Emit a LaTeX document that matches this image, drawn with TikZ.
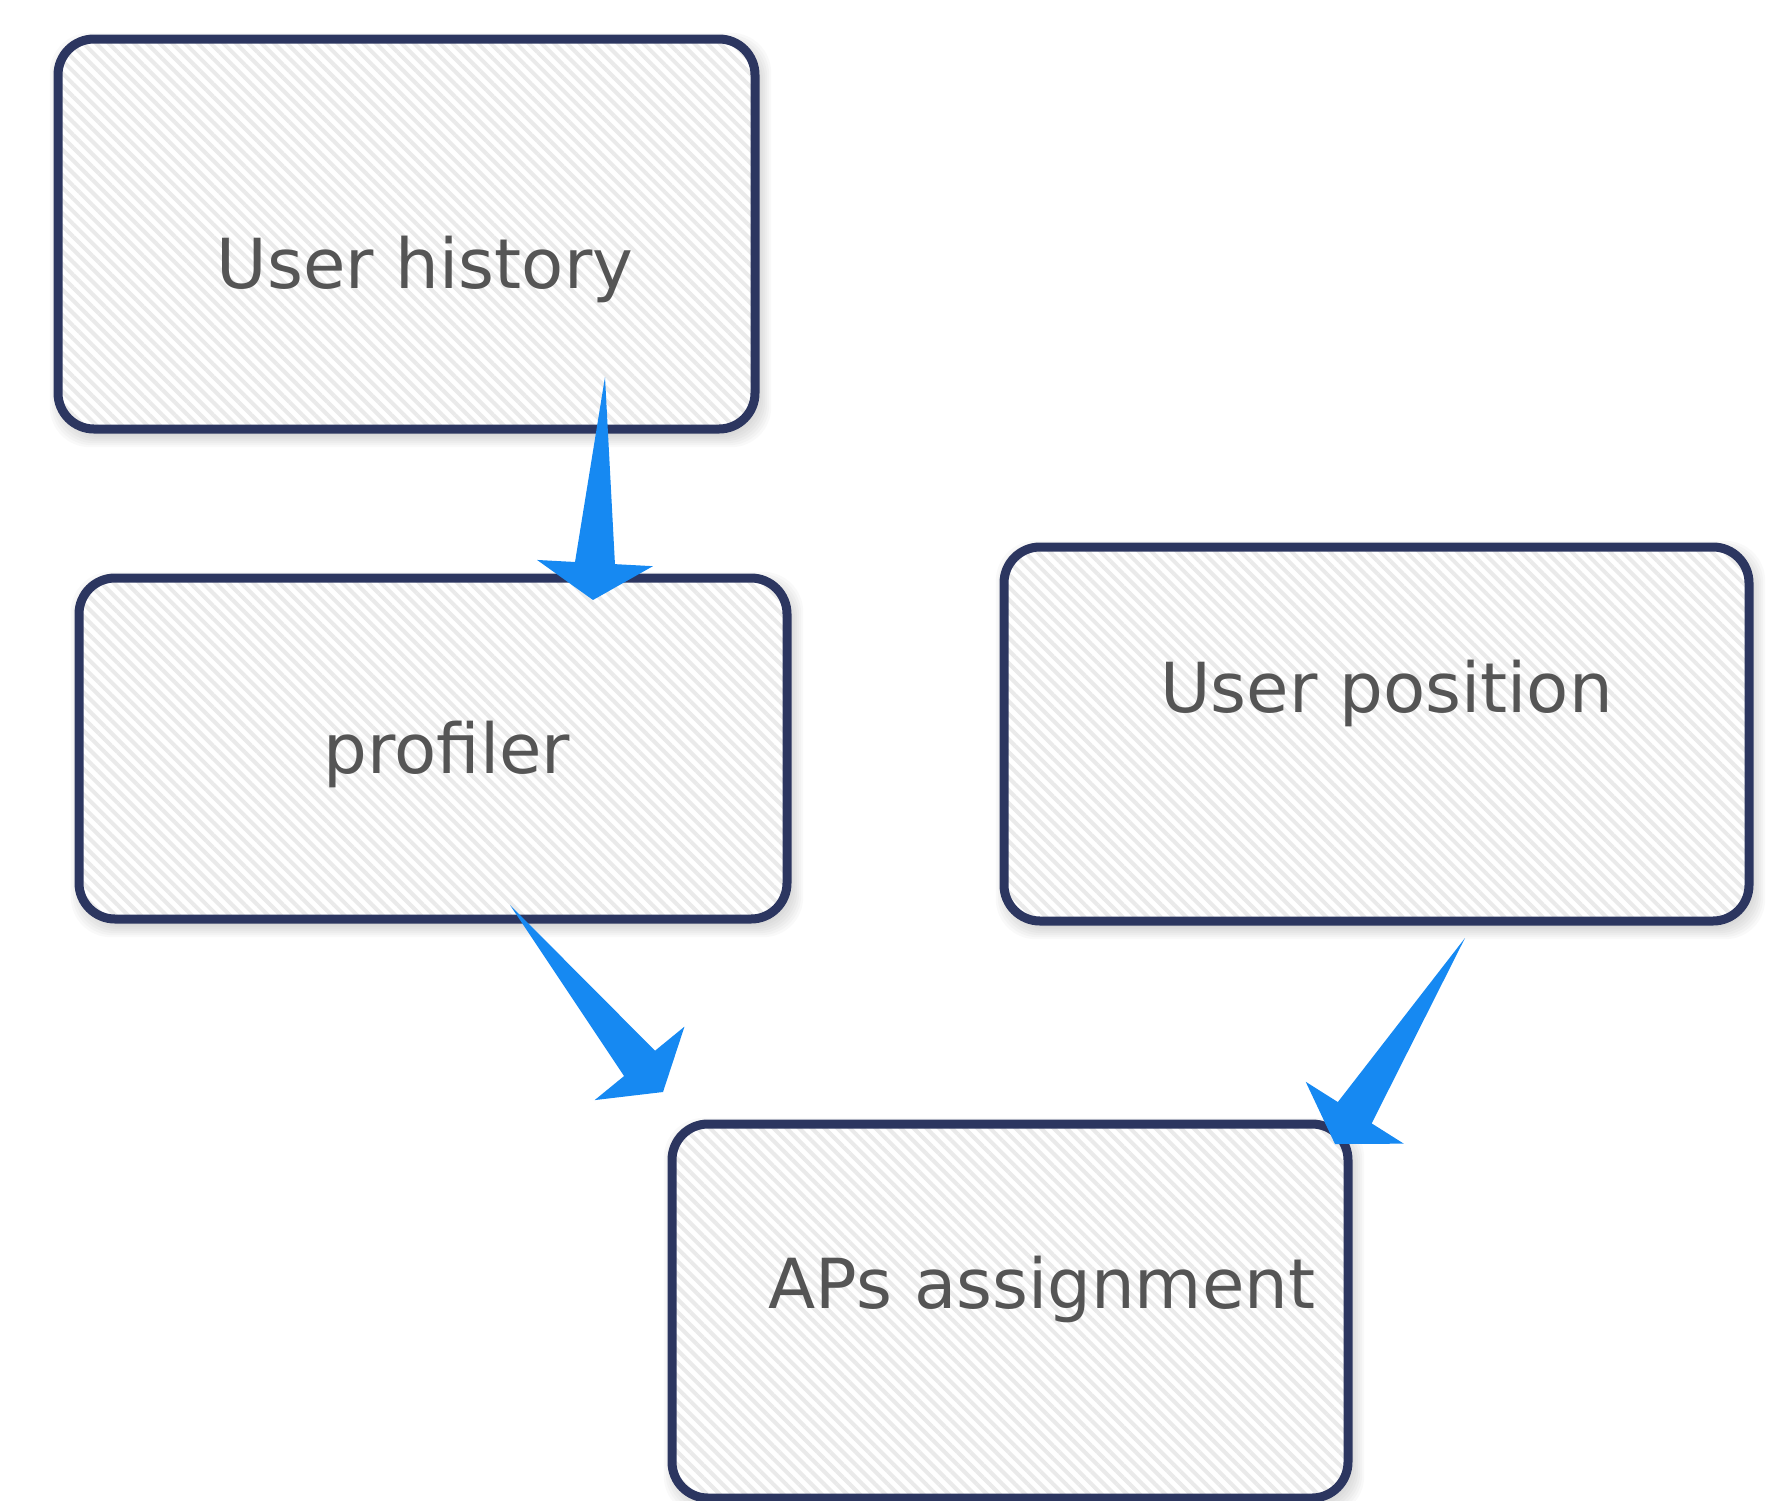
\documentclass[tikz,border=0pt]{standalone}
\usepackage{fontspec}
\setmainfont{DejaVu Sans}
\usetikzlibrary{patterns.meta,calc}
\definecolor{navy}{RGB}{44,54,96}
\definecolor{txtgray}{RGB}{85,85,85}
\definecolor{arrowblue}{RGB}{22,137,242}
\definecolor{hatch}{RGB}{234,234,234}
\tikzset{
  boxnode/.style={draw=navy, line width=9pt, rounded corners=36pt,
    preaction={fill=white},
    pattern={Lines[angle=-45,distance=9pt,line width=4pt]}, pattern color=hatch,
    inner sep=0pt},
  boxtext/.style={text=txtgray, font=\fontsize{69}{80}\selectfont, anchor=base, inner sep=0pt},
  arrowfill/.style={fill=arrowblue},
  shadowpiece/.style={fill=black, opacity=0.022, rounded corners=40pt}
}
\newcommand\softshadow[1]{%
  \foreach \g in {0,2,...,12}{%
    \fill[shadowpiece] ($(#1.north west)+(4-\g,6-\g)$) rectangle ($(#1.south east)+(4+\g,6+\g)$);}%
}
\newcommand\wedgearrow[2]{%
  \path ($(#2)!37pt!(#1)$) coordinate (wa-base);
  \path ($(wa-base)!20pt!90:(#2)$) coordinate (wa-s1)
        ($(wa-base)!20pt!-90:(#2)$) coordinate (wa-s2)
        ($(wa-base)!58pt!90:(#2)$) coordinate (wa-b1)
        ($(wa-base)!58pt!-90:(#2)$) coordinate (wa-b2);
  \fill[arrowfill] (#1) -- (wa-s1) -- (wa-b1) -- (#2) -- (wa-b2) -- (wa-s2) -- cycle;
}
\begin{document}
\begin{tikzpicture}[x=1pt,y=-1pt]
\useasboundingbox (0,0) rectangle (1780,1500);
% boxes (geometry)
\path (406.5,234) node[minimum width=697pt, minimum height=390pt] (b1) {};
\path (433,748.5) node[minimum width=708pt, minimum height=341pt] (b2) {};
\path (1376.5,734) node[minimum width=745pt, minimum height=374pt] (b3) {};
\path (1010,1311) node[minimum width=676pt, minimum height=374pt] (b4) {};
% shadows
\softshadow{b1}
\softshadow{b2}
\softshadow{b3}
\softshadow{b4}
% visible boxes
\node[boxnode, minimum width=697pt, minimum height=390pt] (box1) at (b1) {};
\node[boxnode, minimum width=708pt, minimum height=341pt] (box2) at (b2) {};
\node[boxnode, minimum width=745pt, minimum height=374pt] (box3) at (b3) {};
\node[boxnode, minimum width=676pt, minimum height=374pt] (box4) at (b4) {};
% texts
\node[boxtext] (t1) at (425,288) {User history};
\node[boxtext] (t2) at (447,773) {profiler};
\node[boxtext] (t3) at (1386.5,712) {User position};
\node[boxtext] (t4) at (1042,1308) {APs assignment};
% arrows
\coordinate (a1s) at (605,377);
\coordinate (a1e) at (593,600);
\coordinate (a2s) at (510,905);
\coordinate (a2e) at (663,1092);
\coordinate (a3s) at (1465,938);
\coordinate (a3e) at (1335,1144);
\wedgearrow{a1s}{a1e}
\wedgearrow{a2s}{a2e}
\wedgearrow{a3s}{a3e}
\end{tikzpicture}
\end{document}
